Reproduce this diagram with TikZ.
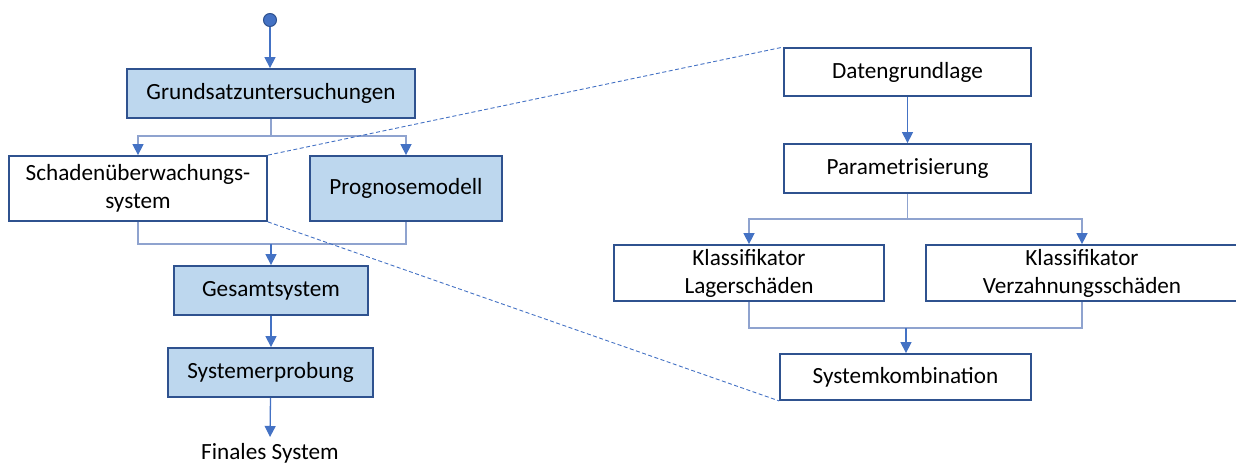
\documentclass[tikz,border=0pt]{standalone}
\usepackage{fontspec}
\setmainfont{Carlito}
\usetikzlibrary{arrows.meta,calc}
\definecolor{boxfill}{HTML}{BDD7EE}
\definecolor{boxline}{HTML}{2F528F}
\definecolor{flow}{HTML}{4472C4}
\definecolor{branch}{HTML}{8FA3CF}
\begin{document}
\begin{tikzpicture}[x=1pt,y=-1pt,
  every node/.style={font=\fontsize{23.2}{28}\selectfont, text=black},
  proc/.style={draw=boxline, line width=1.8pt, fill=white, inner sep=0pt, align=center},
  hl/.style={proc, fill=boxfill},
  tip/.style={-{Triangle[length=11pt,width=11pt,color=flow]}},
  flowline/.style={draw=flow, line width=1.3pt},
  branchline/.style={draw=branch, line width=1.5pt},
  zoomline/.style={draw=flow, line width=0.9pt, dash pattern=on 4pt off 2.5pt}]
\useasboundingbox (0,0) rectangle (1236,466);
\clip (0,0) rectangle (1236,466);

% ---- overall development process (left) ----
\node[circle, fill=flow, draw=boxline, line width=1pt, minimum size=13pt, inner sep=0pt] (s) at (270,20) {};
\node[hl, minimum width=288pt, minimum height=49pt] (g) at (271,93.5) {Grundsatzuntersuchungen};
\node[proc, minimum width=258pt, minimum height=65pt] (sch) at (138,188.5) {Schadenüberwachungs-\\system};
\node[hl, minimum width=192pt, minimum height=65pt] (prog) at (406,188.5) {Prognosemodell};
\node[hl, minimum width=194pt, minimum height=49pt] (ges) at (271,290.5) {Gesamtsystem};
\node[hl, minimum width=205pt, minimum height=49pt] (sys) at (270.5,372.5) {Systemerprobung};
\node[anchor=base, inner sep=0pt] (fin) at (270,459.5) {Finales System};

\coordinate (gsplit) at (271,136);
\coordinate (gmerge) at (271,244);
\coordinate (fend) at (270,437);

\draw[flowline, tip] (s) -- (s |- g.north);
\draw[branchline] (g.south) -- (gsplit);
\draw[branchline, tip] (gsplit) -| (sch.north);
\draw[branchline, tip] (gsplit) -| (prog.north);
\draw[branchline] (sch.south) |- (gmerge) -| (prog.south);
\draw[flowline, tip] (gmerge) -- (ges.north);
\draw[flowline, tip] (ges.south) -- (ges.south |- sys.north);
\draw[flowline, tip] (sys.south) -- (fend);

% ---- detail of the damage monitoring system (right) ----
\node[proc, minimum width=247pt, minimum height=48pt] (dat) at (907.5,72) {Datengrundlage};
\node[proc, minimum width=247pt, minimum height=49pt] (par) at (907.5,168.5) {Parametrisierung};
\node[proc, minimum width=270pt, minimum height=56pt] (lag) at (749,273) {Klassifikator\\Lagerschäden};
\node[proc, minimum width=312pt, minimum height=56pt] (verz) at (1082,273) {Klassifikator\\Verzahnungsschäden};
\node[proc, minimum width=251pt, minimum height=46pt] (sk) at (905.5,377) {Systemkombination};

\coordinate (psplit) at (907.5,219);
\coordinate (pmerge) at (906,328);

\draw[flowline, tip] (dat.south) -- (par.north);
\draw[branchline] (par.south) -- (psplit);
\draw[branchline, tip] (psplit) -| (lag.north);
\draw[branchline, tip] (psplit) -| (verz.north);
\draw[branchline] (lag.south) |- (pmerge) -| (verz.south);
\draw[flowline, tip] (pmerge) -- (pmerge |- sk.north);

% ---- zoom lines linking the detail to its box ----
\draw[zoomline] (sch.north east) -- (dat.north west);
\draw[zoomline] (sch.south east) -- (sk.south west);
\end{tikzpicture}
\end{document}
